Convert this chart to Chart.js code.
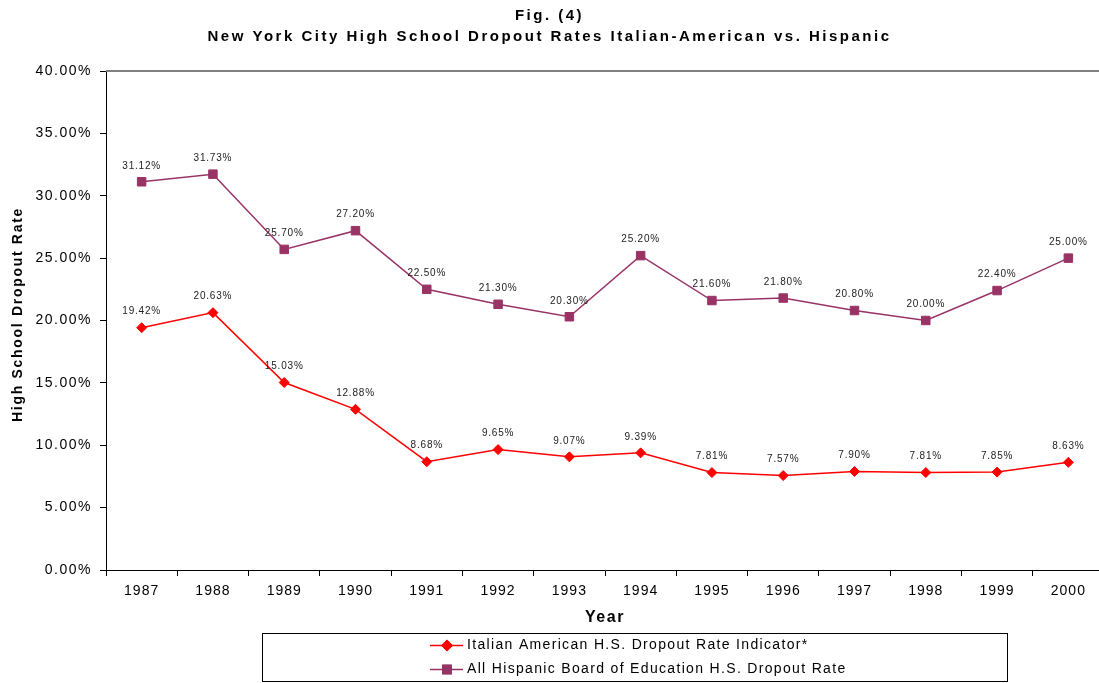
<!DOCTYPE html>
<html>
<head>
<meta charset="utf-8">
<script src="https://cdn.jsdelivr.net/npm/chart.js@4/dist/chart.umd.min.js"></script>
<style>
  html, body { margin: 0; padding: 0; background: #fff; overflow: hidden; }
  #wrap { width: 1099px; height: 683px; overflow: hidden; }
</style>
</head>
<body>
<div id="wrap"><canvas id="c" width="1111" height="683"></canvas></div>
<script>
const years = ['1987','1988','1989','1990','1991','1992','1993','1994','1995','1996','1997','1998','1999','2000'];
const italianRates = [19.42, 20.63, 15.03, 12.88, 8.68, 9.65, 9.07, 9.39, 7.81, 7.57, 7.90, 7.81, 7.85, 8.63];
const hispanicRates = [31.12, 31.73, 25.70, 27.20, 22.50, 21.30, 20.30, 25.20, 21.60, 21.80, 20.80, 20.00, 22.40, 25.00];
const seriesNames = ['Italian American H.S. Dropout Rate Indicator*', 'All Hispanic Board of Education H.S. Dropout Rate'];
const titleLines = ['Fig. (4)', 'New York City High School Dropout Rates Italian-American vs. Hispanic'];
const yTitle = 'High School Dropout Rate';
const xTitle = 'Year';

const FONT = "Arial, 'Liberation Sans', sans-serif";
const VIEW_W = 1099;

function withSpacing(fn, ls, dy) {
  return function (...args) {
    const ctx = this.ctx;
    ctx.save();
    ctx.letterSpacing = ls;
    if (dy) ctx.translate(0, dy);
    const r = fn.apply(this, args);
    ctx.restore();
    return r;
  };
}

const spacingPlugin = {
  id: 'spacing',
  afterLayout(chart) {
    const t = chart.titleBlock;
    if (t) { t.left = 0; t.right = VIEW_W; t.width = VIEW_W; }
    if (chart._spaced) return;
    chart._spaced = true;
    if (t) t.draw = withSpacing(Object.getPrototypeOf(t).draw, '2.5px');
    const x = chart.scales.x, y = chart.scales.y;
    const P = Object.getPrototypeOf(Object.getPrototypeOf(x));
    x.drawLabels = withSpacing(P.drawLabels, '1px');
    x.drawTitle = withSpacing(P.drawTitle, '1.6px');
    y.drawLabels = withSpacing(P.drawLabels, '1.5px');
    y.drawTitle = withSpacing(P.drawTitle, '1.7px', -6);
  }
};

const frameTopPlugin = {
  id: 'frameTop',
  beforeDatasetsDraw(chart) {
    const {ctx, chartArea} = chart;
    ctx.save();
    ctx.strokeStyle = '#808080';
    ctx.lineWidth = 2;
    ctx.beginPath();
    ctx.moveTo(chartArea.left, chartArea.top);
    ctx.lineTo(chart.width, chartArea.top);
    ctx.stroke();
    ctx.restore();
  }
};

const valueLabelPlugin = {
  id: 'valueLabels',
  afterDatasetsDraw(chart) {
    const ctx = chart.ctx;
    ctx.save();
    ctx.letterSpacing = '0.8px';
    ctx.font = '10px ' + FONT;
    ctx.fillStyle = '#222';
    ctx.textAlign = 'center';
    ctx.textBaseline = 'middle';
    chart.data.datasets.forEach((ds, i) => {
      const meta = chart.getDatasetMeta(i);
      meta.data.forEach((pt, j) => {
        ctx.fillText(ds.data[j].toFixed(2) + '%', pt.x, pt.y - 16);
      });
    });
    ctx.restore();
  }
};

const boxLegendPlugin = {
  id: 'boxLegend',
  afterDraw(chart) {
    const ctx = chart.ctx;
    ctx.save();
    ctx.strokeStyle = '#000';
    ctx.lineWidth = 1;
    ctx.strokeRect(262.5, 633.5, 745, 48);
    const rows = [645.5, 669.5];
    chart.data.datasets.forEach((ds, i) => {
      const y = rows[i];
      ctx.letterSpacing = '0px';
      ctx.strokeStyle = ds.borderColor;
      ctx.lineWidth = ds.borderWidth;
      ctx.beginPath();
      ctx.moveTo(430, y);
      ctx.lineTo(463, y);
      ctx.stroke();
      Chart.helpers.drawPoint(ctx, {
        pointStyle: ds.pointStyle,
        radius: ds.pointRadius,
        rotation: 0,
        borderWidth: 1
      }, 447, y);
      ctx.fillStyle = ds.pointBackgroundColor;
      ctx.strokeStyle = ds.pointBorderColor;
      ctx.lineWidth = 1;
      ctx.fill();
      ctx.stroke();
      ctx.letterSpacing = '1.33px';
      ctx.fillStyle = '#000';
      ctx.font = '14px ' + FONT;
      ctx.textAlign = 'left';
      ctx.textBaseline = 'middle';
      ctx.fillText(ds.label, 467, y);
    });
    ctx.restore();
  }
};

new Chart(document.getElementById('c'), {
  type: 'line',
  data: {
    labels: years,
    datasets: [
      {
        label: seriesNames[0],
        data: italianRates,
        borderColor: '#FF0000',
        backgroundColor: '#FF0000',
        pointBackgroundColor: '#FF0000',
        pointBorderColor: '#FF0000',
        borderWidth: 1.5,
        pointStyle: 'rectRot',
        pointRadius: 5,
        pointBorderWidth: 1,
        tension: 0
      },
      {
        label: seriesNames[1],
        data: hispanicRates,
        borderColor: '#993366',
        backgroundColor: '#993366',
        pointBackgroundColor: '#993366',
        pointBorderColor: '#993366',
        borderWidth: 1.5,
        pointStyle: 'rect',
        pointRadius: 6,
        pointBorderWidth: 1,
        tension: 0
      }
    ]
  },
  options: {
    responsive: false,
    animation: false,
    devicePixelRatio: 1,
    layout: { padding: { left: 0, right: 0, top: 0, bottom: 56 } },
    plugins: {
      legend: { display: false },
      tooltip: { enabled: false },
      title: {
        display: true,
        text: titleLines,
        color: '#000',
        font: { family: FONT, size: 15, weight: 'bold', lineHeight: 1.4 },
        padding: { top: 5, bottom: 24 }
      }
    },
    scales: {
      x: {
        offset: true,
        grid: { display: true, offset: true, drawOnChartArea: false, tickLength: 6, color: '#000', tickColor: '#000' },
        border: { display: true, color: '#000', width: 1 },
        ticks: { color: '#000', font: { family: FONT, size: 14 }, padding: 7, maxRotation: 0, autoSkip: false },
        title: { display: true, text: xTitle, color: '#000', font: { family: FONT, size: 16, weight: 'bold', lineHeight: 1.2 }, padding: { top: 0, bottom: 0 } },
        afterFit(scale) { scale.height = 57; scale.paddingRight = 0; scale.paddingLeft = 0; }
      },
      y: {
        min: 0,
        max: 40,
        grid: { display: true, drawOnChartArea: false, tickLength: 6, color: '#000', tickColor: '#000' },
        border: { display: true, color: '#000', width: 1 },
        ticks: {
          stepSize: 5,
          color: '#000',
          font: { family: FONT, size: 14 },
          padding: 8,
          callback: v => v.toFixed(2) + '%'
        },
        title: { display: true, text: yTitle, color: '#000', font: { family: FONT, size: 14, weight: 'bold', lineHeight: 1.2 }, padding: { top: 10, bottom: 0 } },
        afterFit(scale) { scale.width = 106; }
      }
    }
  },
  plugins: [spacingPlugin, frameTopPlugin, valueLabelPlugin, boxLegendPlugin]
});
</script>
</body>
</html>
